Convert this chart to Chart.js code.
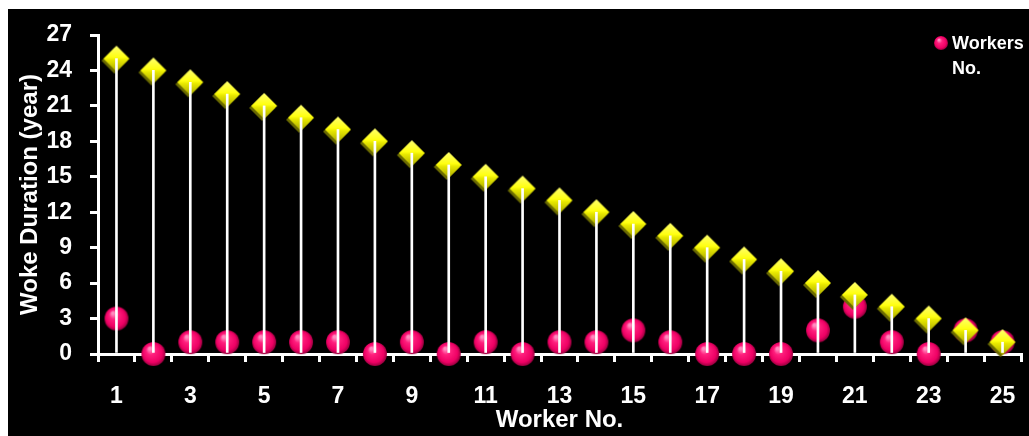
<!DOCTYPE html>
<html>
<head>
<meta charset="utf-8">
<title>Worker duration</title>
<script src="https://cdn.jsdelivr.net/npm/chart.js@4.4.1/dist/chart.umd.min.js"></script>
<style>
  html, body { margin: 0; padding: 0; background: #fff; }
  canvas { display: block; }
</style>
</head>
<body>
<canvas id="chart" width="1029" height="436"></canvas>
<script>
// worker numbers on the x axis
const workers = ['1','2','3','4','5','6','7','8','9','10','11','12','13','14','15','16','17','18','19','20','21','22','23','24','25'];
// years worked per worker (yellow diamonds + white drop lines)
const duration = [25,24,23,22,21,20,19,18,17,16,15,14,13,12,11,10,9,8,7,6,5,4,3,2,1];
// workers no. (pink balls)
const workersNo = [3,0,1,1,1,1,1,0,1,0,1,0,1,1,2,1,0,0,0,2,4,1,0,2,1];
// only every other worker gets a label
const xTicks = ['1','3','5','7','9','11','13','15','17','19','21','23','25'];

const FONT = '"Liberation Sans", Arial, sans-serif';

function makeBall(r) {
  const c = document.createElement('canvas');
  c.width = c.height = r * 2 + 2;
  const g = c.getContext('2d');
  const m = r + 1;
  const grad = g.createRadialGradient(m - r * 0.3, m - r * 0.45, r * 0.1, m, m, r * 1.05);
  grad.addColorStop(0, '#ff8cc0');
  grad.addColorStop(0.3, '#ff1f7d');
  grad.addColorStop(0.75, '#ee0064');
  grad.addColorStop(1, '#8a0038');
  g.fillStyle = grad;
  g.beginPath();
  g.arc(m, m, r, 0, Math.PI * 2);
  g.fill();
  return c;
}

function makeDiamond(r) {
  const s = r * 2 + 6;
  const c = document.createElement('canvas');
  c.width = c.height = s;
  const g = c.getContext('2d');
  const m = s / 2;
  const path = (cx, cy) => {
    g.beginPath();
    g.moveTo(cx, cy - r);
    g.lineTo(cx + r, cy);
    g.lineTo(cx, cy + r);
    g.lineTo(cx - r, cy);
    g.closePath();
  };
  // shadow below-left
  g.fillStyle = '#6b6b00';
  path(m - 2, m + 2);
  g.fill();
  const grad = g.createLinearGradient(0, m - r, 0, m + r);
  grad.addColorStop(0, '#ffff70');
  grad.addColorStop(0.45, '#ffff10');
  grad.addColorStop(0.55, '#e8e800');
  grad.addColorStop(1, '#a8a800');
  g.fillStyle = grad;
  path(m, m);
  g.fill();
  return c;
}

const ball = makeBall(12);
const legendBall = makeBall(7);
const diamond = makeDiamond(13);

const backdrop = {
  id: 'backdrop',
  beforeDraw(chart) {
    const ctx = chart.ctx;
    ctx.save();
    ctx.fillStyle = '#fff';
    ctx.fillRect(0, 0, chart.width, chart.height);
    ctx.fillStyle = '#000';
    ctx.fillRect(8, 9, chart.width - 8, chart.height - 9);
    ctx.restore();
  }
};

// legend for the pink series, text broken over two lines
const ballLegend = {
  id: 'ballLegend',
  afterDraw(chart) {
    const ctx = chart.ctx;
    const ds = chart.data.datasets[2];
    const words = ds.label.split(' ');
    ctx.save();
    ctx.drawImage(legendBall, 941 - legendBall.width / 2, 43 - legendBall.height / 2);
    ctx.fillStyle = '#fff';
    ctx.font = 'bold 18px ' + FONT;
    ctx.textBaseline = 'middle';
    ctx.fillText(words[0], 952, 44);
    ctx.fillText(words[1], 952, 69);
    ctx.restore();
  }
};

new Chart(document.getElementById('chart'), {
  type: 'bar',
  data: {
    labels: workers,
    datasets: [
      {
        type: 'bar',
        label: 'Duration line',
        data: duration,
        backgroundColor: '#fff',
        barThickness: 2,
        order: 0
      },
      {
        type: 'line',
        label: 'Duration',
        data: duration,
        showLine: false,
        pointStyle: diamond,
        pointRadius: 13,
        clip: false,
        order: 1
      },
      {
        type: 'line',
        label: 'Workers No.',
        data: workersNo,
        showLine: false,
        pointStyle: ball,
        pointRadius: 12,
        clip: false,
        order: 2
      }
    ]
  },
  options: {
    responsive: false,
    devicePixelRatio: 1,
    animation: false,
    layout: {
      autoPadding: false,
      padding: { top: 35, right: 8, left: 0, bottom: 0 }
    },
    plugins: {
      legend: { display: false },
      tooltip: { enabled: false }
    },
    scales: {
      x: {
        afterFit(scale) {
          scale.height = 82;
          // labels sit inside their category slots, no extra side room needed
          scale.paddingLeft = 0;
          scale.paddingRight = 0;
        },
        grid: {
          offset: true,
          drawOnChartArea: false,
          drawTicks: true,
          tickLength: 8,
          color: '#fff',
          lineWidth: 3
        },
        border: { display: true, color: '#fff', width: 3 },
        ticks: {
          autoSkip: false,
          maxRotation: 0,
          padding: 21,
          color: '#fff',
          font: { family: FONT, size: 23, weight: 'bold' },
          callback: (v, i) => xTicks.includes(workers[i]) ? workers[i] : ''
        },
        title: {
          display: true,
          text: 'Worker No.',
          color: '#fff',
          font: { family: FONT, size: 24, weight: 'bold' },
          padding: { top: 0, bottom: 1 }
        }
      },
      y: {
        min: 0,
        max: 27,
        afterFit(scale) { scale.width = 98; },
        grid: {
          drawOnChartArea: false,
          drawTicks: true,
          tickLength: 8,
          color: '#fff',
          lineWidth: 3
        },
        border: { display: true, color: '#fff', width: 3 },
        ticks: {
          stepSize: 3,
          padding: 18,
          color: '#fff',
          font: { family: FONT, size: 23, weight: 'bold' }
        },
        title: {
          display: true,
          text: 'Woke Duration (year)',
          color: '#fff',
          font: { family: FONT, size: 24, weight: 'bold' },
          padding: { top: 16, bottom: 0 }
        }
      }
    }
  },
  plugins: [backdrop, ballLegend]
});
</script>
</body>
</html>
